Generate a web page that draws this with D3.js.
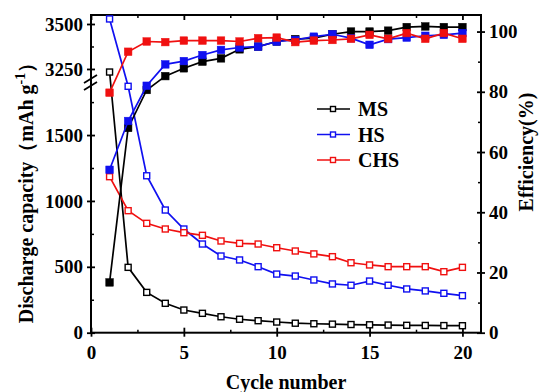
<!DOCTYPE html>
<html>
<head>
<meta charset="utf-8">
<script src="https://cdn.jsdelivr.net/npm/d3@7"></script>
<style>
  body { margin: 0; background: #fff; }
  svg text { font-family: "Liberation Serif", "Times New Roman", serif; font-weight: bold; }
</style>
</head>
<body>
<svg id="chart" width="544" height="392"></svg>
<script>
// cycle numbers and series
var cycles = [1, 2, 3, 4, 5, 6, 7, 8, 9, 10, 11, 12, 13, 14, 15, 16, 17, 18, 19, 20];

// discharge capacity (mAh g-1), open markers, left axis
var msCap  = [3233, 496, 306, 223, 172, 147, 121, 102, 91, 81, 72, 68, 65, 62, 60, 58, 56, 55, 54, 53];
var hsCap  = [3528, 1870, 1191, 931, 787, 673, 582, 552, 501, 445, 430, 400, 370, 360, 392, 360, 332, 317, 299, 281];
var chsCap = [1184, 926, 830, 787, 759, 739, 696, 678, 673, 645, 620, 598, 577, 531, 514, 501, 501, 501, 463, 496];

// coulombic efficiency (%), filled markers, right axis
var msEff  = [16.7, 68, 80.6, 85.2, 87.8, 90, 91.1, 94.1, 95, 96.7, 97.5, 97.8, 99.1, 100, 100, 100.3, 101.5, 101.7, 101.5, 101.5];
var hsEff  = [54.1, 70.3, 82, 89.1, 90.2, 92.2, 93.9, 94.7, 95, 96.7, 97.2, 98.3, 99.1, 97.8, 95.6, 97.5, 98, 98.6, 98.9, 99.5];
var chsEff = [79.7, 93.3, 96.7, 96.5, 97, 97, 97, 96.7, 97.8, 98, 96.5, 97, 97.2, 97.6, 98.9, 97.6, 99.5, 97.6, 99.5, 97.6];

var seriesNames = ["MS", "HS", "CHS"];
var seriesColors = ["#000000", "#1010f0", "#f01010"];

var xTicks = [0, 5, 10, 15, 20];
var xMinor = [2.5, 7.5, 12.5, 17.5];
var yLowTicks = [0, 500, 1000, 1500];
var yLowMinor = [250, 750, 1250, 1750];
var yHighTicks = [3250, 3500];
var yHighMinor = [3375];
var effTicks = [0, 20, 40, 60, 80, 100];
var effMinor = [10, 30, 50, 70, 90];

var svg = d3.select("#chart");
var L = 91, R = 481, T = 15, B = 332.7, BRK = 83;

var x = d3.scaleLinear().domain([0, 21]).range([L, R]);
var yLow = d3.scaleLinear().domain([0, 1895]).range([B, BRK]);
var yHigh = d3.scaleLinear().domain([3172, 3550]).range([BRK, T]);
var yCap = function(v) { return v > 2500 ? yHigh(v) : yLow(v); };
var yEff = d3.scaleLinear().domain([0, 105.5]).range([B, T]);

var fs = "19px";

// axes: major ticks cross the line, minor ticks inside
function crossAxis(g, gen, major, minor, labels) {
    g.call(gen.tickValues(major).tickSize(labels ? 4 : 0).tickPadding(4).tickFormat(labels ? d3.format("d") : ""));
    g.selectAll(".domain").remove();
    g.selectAll("text").style("font-size", fs).attr("fill", "#000");
    g.selectAll("line").attr("stroke-width", 1.8);
}
function inner(g, major, minor) {
    g.select(".domain").remove();
    g.selectAll("line").attr("stroke-width", minor ? 1.5 : 1.8);
}

// bottom
var gb = svg.append("g").attr("transform", "translate(0," + B + ")");
crossAxis(gb, d3.axisBottom(x), xTicks, xMinor, true);
gb.selectAll("text").attr("dy", "0.95em");
svg.append("g").attr("transform", "translate(0," + B + ")")
   .call(d3.axisBottom(x).tickValues(xTicks).tickSize(-5).tickFormat(""))
   .call(inner, true, false);
svg.append("g").attr("transform", "translate(0," + B + ")")
   .call(d3.axisBottom(x).tickValues(xMinor).tickSize(-3).tickFormat(""))
   .call(inner, false, true);
// top
svg.append("g").attr("transform", "translate(0," + T + ")")
   .call(d3.axisTop(x).tickValues(xTicks).tickSize(-5).tickFormat(""))
   .call(inner, true, false);
svg.append("g").attr("transform", "translate(0," + T + ")")
   .call(d3.axisTop(x).tickValues(xMinor).tickSize(-3).tickFormat(""))
   .call(inner, false, true);

// left, two pieces
[[yLow, yLowTicks, yLowMinor], [yHigh, yHighTicks, yHighMinor]].forEach(function(p) {
    var gl = svg.append("g").attr("transform", "translate(" + L + ",0)");
    crossAxis(gl, d3.axisLeft(p[0]), p[1], p[2], true);
    svg.append("g").attr("transform", "translate(" + L + ",0)")
       .call(d3.axisLeft(p[0]).tickValues(p[1]).tickSize(-4).tickFormat(""))
       .call(inner, true, false);
    svg.append("g").attr("transform", "translate(" + L + ",0)")
       .call(d3.axisLeft(p[0]).tickValues(p[2]).tickSize(-3).tickFormat(""))
       .call(inner, false, true);
});

// right
var gr = svg.append("g").attr("transform", "translate(" + R + ",0)");
crossAxis(gr, d3.axisRight(yEff), effTicks, effMinor, true);
svg.append("g").attr("transform", "translate(" + R + ",0)")
   .call(d3.axisRight(yEff).tickValues(effTicks).tickSize(-4).tickFormat(""))
   .call(inner, true, false);
svg.append("g").attr("transform", "translate(" + R + ",0)")
   .call(d3.axisRight(yEff).tickValues(effMinor).tickSize(-3).tickFormat(""))
   .call(inner, false, true);

// frame
svg.append("rect").attr("x", L).attr("y", T).attr("width", R - L).attr("height", B - T)
   .attr("fill", "none").attr("stroke", "#000").attr("stroke-width", 2);

// axis break marks
[BRK - 4, BRK + 3].forEach(function(yy) {
    svg.append("line").attr("x1", L - 7).attr("y1", yy + 4).attr("x2", L + 6).attr("y2", yy - 4)
       .attr("stroke", "#000").attr("stroke-width", 1.8);
});

// series
var capData = [msCap, hsCap, chsCap];
var effData = [msEff, hsEff, chsEff];

function drawSeries(vals, yf, color, filled) {
    var pts = cycles.map(function(c, i) { return [x(c), yf(vals[i])]; });
    svg.append("path").datum(pts)
       .attr("d", d3.line())
       .attr("fill", "none").attr("stroke", color).attr("stroke-width", 1.7);
    svg.append("g").selectAll("rect").data(pts).join("rect")
       .attr("x", function(d) { return d[0] - (filled ? 3.8 : 3); })
       .attr("y", function(d) { return d[1] - (filled ? 3.8 : 3); })
       .attr("width", filled ? 7.6 : 6).attr("height", filled ? 7.6 : 6)
       .attr("fill", filled ? color : "#fff")
       .attr("stroke", color).attr("stroke-width", filled ? 0.5 : 1.4);
}

seriesNames.forEach(function(n, i) { drawSeries(capData[i], yCap, seriesColors[i], false); });
seriesNames.forEach(function(n, i) { drawSeries(effData[i], yEff, seriesColors[i], true); });

// legend
var lg = svg.append("g").attr("transform", "translate(317,109)");
seriesNames.forEach(function(n, i) {
    var row = lg.append("g").attr("transform", "translate(0," + (i * 25.5) + ")");
    row.append("line").attr("x1", 0).attr("x2", 33).attr("stroke", seriesColors[i]).attr("stroke-width", 1.7);
    row.append("rect").attr("x", 13.5).attr("y", -2.5).attr("width", 5).attr("height", 5)
       .attr("fill", "#fff").attr("stroke", seriesColors[i]).attr("stroke-width", 1.4);
    row.append("text").attr("x", 41).attr("dy", "0.35em").style("font-size", "20px").text(n);
});

// titles
svg.append("text").attr("x", (L + R) / 2).attr("y", 389).attr("text-anchor", "middle")
   .style("font-size", "20px").text("Cycle number");

var yt = svg.append("text").attr("transform", "translate(33,188) rotate(-90)")
   .attr("text-anchor", "middle").style("font-size", "20px");
yt.append("tspan").text("Discharge capacity（mAh g");
yt.append("tspan").attr("dy", -8).style("font-size", "14px").text("-1");
yt.append("tspan").attr("dy", 8).text("）");

svg.append("text").attr("transform", "translate(533,152) rotate(-90)")
   .attr("text-anchor", "middle").style("font-size", "20px").text("Efficiency(%)");
</script>
</body>
</html>
